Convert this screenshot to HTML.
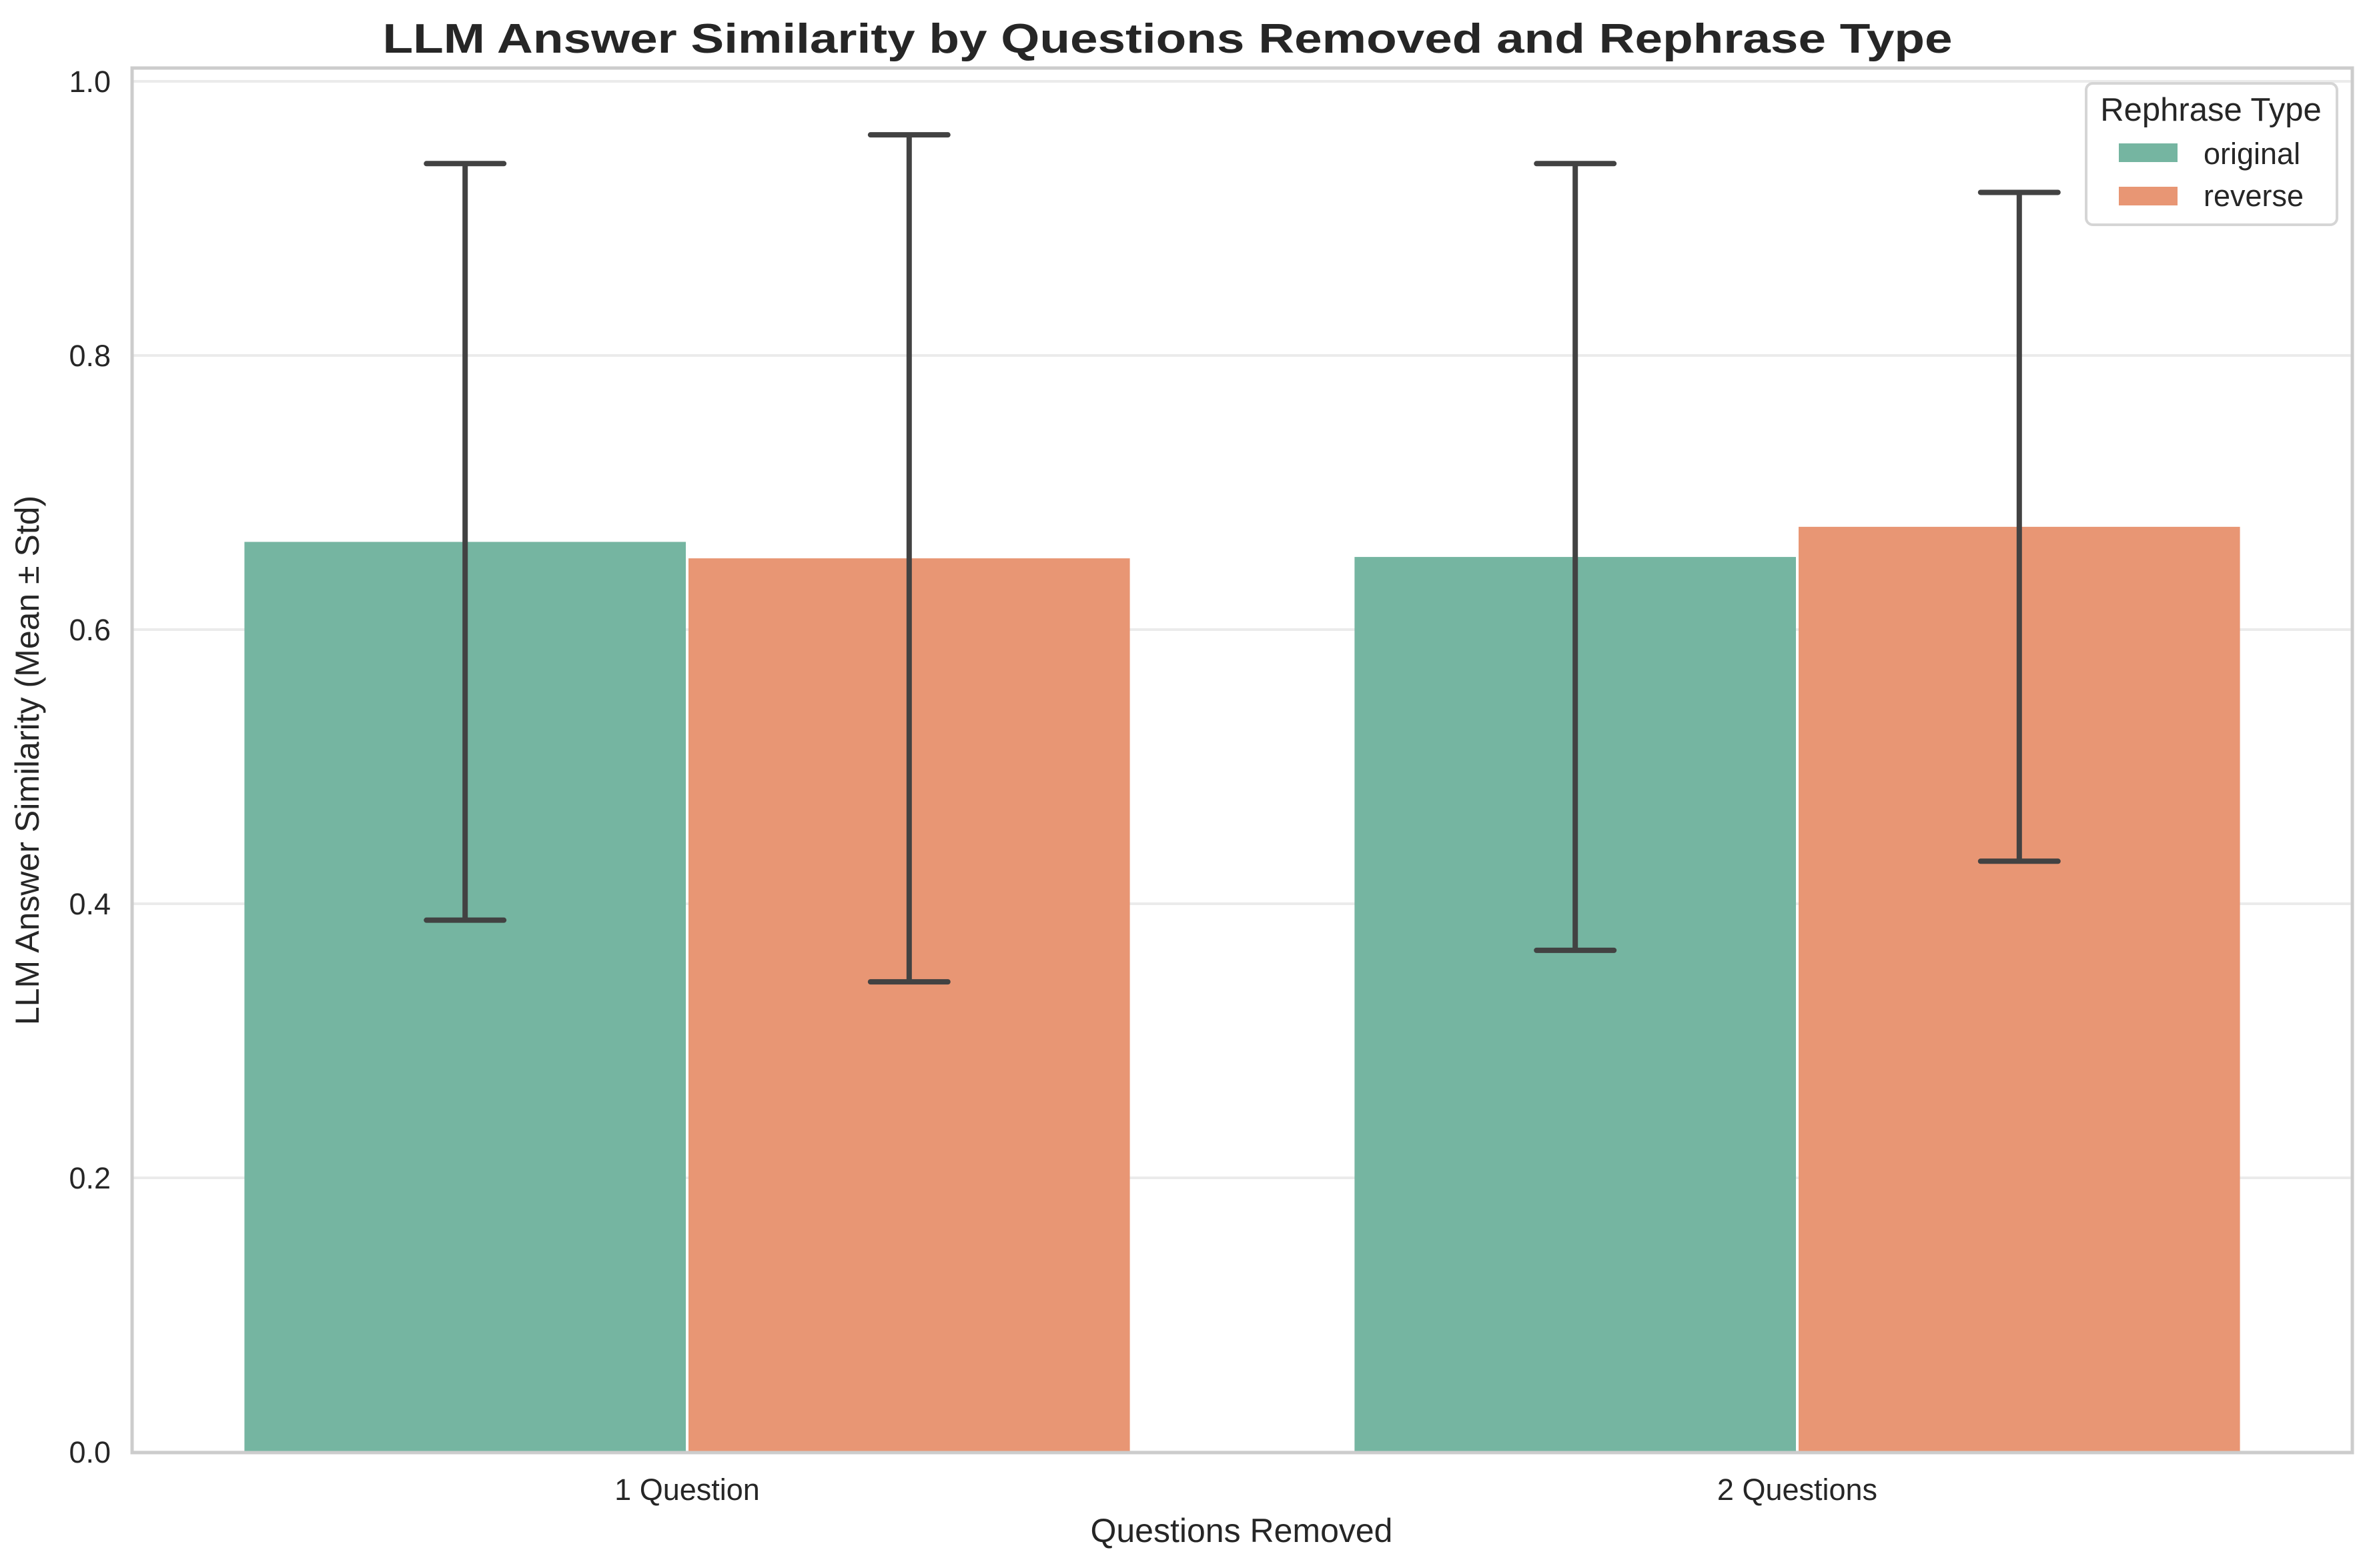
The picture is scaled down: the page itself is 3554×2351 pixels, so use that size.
<!DOCTYPE html>
<html><head><meta charset="utf-8"><style>html,body{margin:0;padding:0;background:#fff}svg{display:block}text{font-family:"Liberation Sans",Arial,sans-serif;fill:#262626}</style></head>
<body>
<svg id="chart" width="3554" height="2351" viewBox="0 0 3554 2351" xmlns="http://www.w3.org/2000/svg">
<rect width="3554" height="2351" fill="#fff"/>
<g id="grid"></g>
<g id="bars"></g>
<g id="errs"></g>
<rect x="198" y="102" width="3328" height="2076" fill="none" stroke="#cccccc" stroke-width="5"/>
<g id="yticks"></g>
<g id="xticks"></g>
<text x="1750" y="79" text-anchor="middle" font-size="62" font-weight="bold" textLength="2353" lengthAdjust="spacingAndGlyphs">LLM Answer Similarity by Questions Removed and Rephrase Type</text>
<text x="1861" y="2312" text-anchor="middle" font-size="50">Questions Removed</text>
<text transform="translate(58,1140) rotate(-90)" text-anchor="middle" font-size="50">LLM Answer Similarity (Mean ± Std)</text>
<g>
<rect x="3127" y="125" width="376" height="212" rx="10" fill="#fff" fill-opacity="0.8" stroke="#d5d5d5" stroke-width="4"/>
<text x="3314" y="181" text-anchor="middle" font-size="49">Rephrase Type</text>
<rect x="3176" y="215" width="88" height="28" fill="#75b5a1"/>
<text x="3303" y="246" font-size="45">original</text>
<rect x="3176" y="280" width="88" height="28" fill="#e89674"/>
<text x="3303" y="309" font-size="45">reverse</text>
</g>
</svg>
<script>
const categories = ["1 Question", "2 Questions"];
const seriesNames = ["original", "reverse"];
const originalMeans = [0.664, 0.653];
const reverseMeans = [0.652, 0.675];
const originalStd = [0.276, 0.287];
const reverseStd = [0.309, 0.244];
const yTicks = [0.0, 0.2, 0.4, 0.6, 0.8, 1.0];
const yTickLabels = ["0.0", "0.2", "0.4", "0.6", "0.8", "1.0"];

const NS = "http://www.w3.org/2000/svg";
const X0 = 198, X1 = 3526, Y0 = 2177, Y1 = 122;
function yScale(v){ return Y0 - (Y0 - Y1) * v; }
const unit = (X1 - X0) / 2;
function xScale(i){ return X0 + unit * (i + 0.5); }
function mk(tag, attrs, parent){ const e = document.createElementNS(NS, tag); for (const k in attrs) e.setAttribute(k, attrs[k]); parent.appendChild(e); return e; }

const grid = document.getElementById('grid');
const yt = document.getElementById('yticks');
yTicks.forEach((t, i) => {
  const g = mk('line', {x1: X0, x2: X1, y1: yScale(t), y2: yScale(t), stroke: '#ebebeb', 'stroke-width': 4}, grid);
  
  
  const tx = mk('text', {x: 166, y: yScale(t) + 16, 'text-anchor': 'end', 'font-size': 45}, yt);
  tx.textContent = yTickLabels[i];
  
  
});

const xt = document.getElementById('xticks');
categories.forEach((c, i) => {
  const tx = mk('text', {x: xScale(i), y: 2249, 'text-anchor': 'middle', 'font-size': 45}, xt);
  tx.textContent = c;
  
  
});

const bars = document.getElementById('bars');
const errs = document.getElementById('errs');
const means = [originalMeans, reverseMeans];
const stds = [originalStd, reverseStd];
const colors = ["#75b5a1", "#e89674"];
const bw = unit * 0.4;
categories.forEach((c, i) => {
  for (let s = 0; s < 2; s++) {
    const m = means[s][i], sd = stds[s][i];
    const left = xScale(i) - bw + s * bw;
    const b = mk('rect', {x: left + 2, y: yScale(m), width: bw - 4, height: Y0 - yScale(m), fill: colors[s]}, bars);
    
    
    const cx = left + bw / 2;
    const e = mk('path', {d: `M${cx},${yScale(m - sd)}V${yScale(m + sd)}M${cx - 58},${yScale(m + sd)}H${cx + 58}M${cx - 58},${yScale(m - sd)}H${cx + 58}`, stroke: '#424242', 'stroke-width': 8, 'stroke-linecap': 'round', fill: 'none'}, errs);
    
    
  }
});
</script>
</body></html>
